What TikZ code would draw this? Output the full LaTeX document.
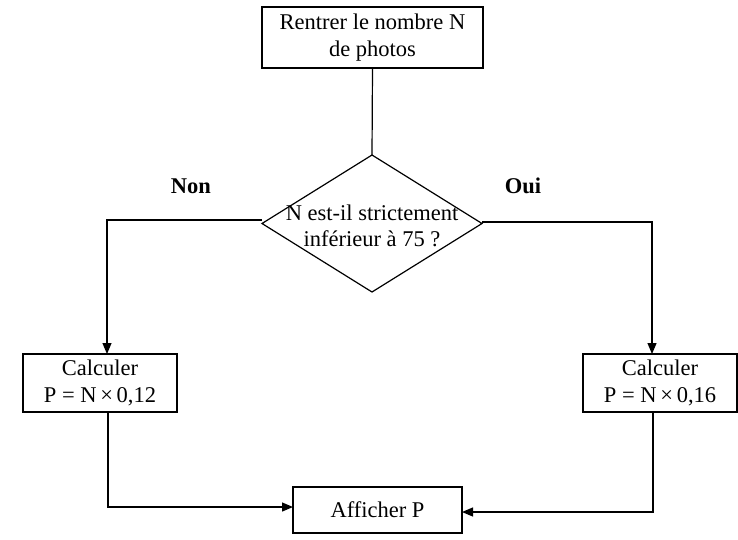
\documentclass[tikz,border=0pt]{standalone}
\usepackage{fontspec}
\setmainfont{Liberation Serif}
\usetikzlibrary{shapes.geometric,arrows.meta}
\begin{document}
\begin{tikzpicture}[x=1pt,y=-1pt,
  font=\fontsize{22.5}{26.5}\selectfont,
  line width=1.2pt,
  stepbox/.style={draw,rectangle,align=center,inner sep=0pt,outer sep=0pt},
  decision/.style={draw,diamond,inner sep=0pt,outer sep=0pt,
    minimum width=220pt,minimum height=137pt},
  answer/.style={font=\fontsize{22.5}{26.5}\selectfont\bfseries},
  flow/.style={-{Triangle[length=11pt,width=9pt]}}]
  \useasboundingbox (0,0) rectangle (738,539);

  % steps of the algorithm
  \node[stepbox,minimum width=221pt,minimum height=61pt] (input) at (372.5,37.5)
    {Rentrer le nombre N\\de photos};
  \node[decision] (test) at (372,223.5) {};
  \node[align=center] (testtext) at (372,226)
    {N est-il strictement\\inférieur à 75 ?};
  \node[stepbox,minimum width=154pt,minimum height=58pt] (low) at (100,383)
    {Calculer\\P = N\,×\,0,12};
  \node[stepbox,minimum width=154pt,minimum height=58pt] (high) at (660,383)
    {Calculer\\P = N\,×\,0,16};
  \node[stepbox,minimum width=169pt,minimum height=46pt] (output) at (377.5,510)
    {Afficher P};

  % branch labels
  \node[answer] (no) at (191,186) {Non};
  \node[answer] (yes) at (523,186) {Oui};

  % connectors
  \draw (input.south) -- (test.north);
  \draw[flow] ([yshift=3.5pt]test.west) -| ([xshift=7pt]low.north);
  \draw[flow] ([yshift=1.5pt]test.east) -| ([xshift=-8pt]high.north);
  \draw[flow] ([xshift=8pt]low.south) |- ([yshift=3pt]output.west);
  \draw[flow] ([xshift=-7pt]high.south) |- ([yshift=-2pt]output.east);
\end{tikzpicture}
\end{document}
